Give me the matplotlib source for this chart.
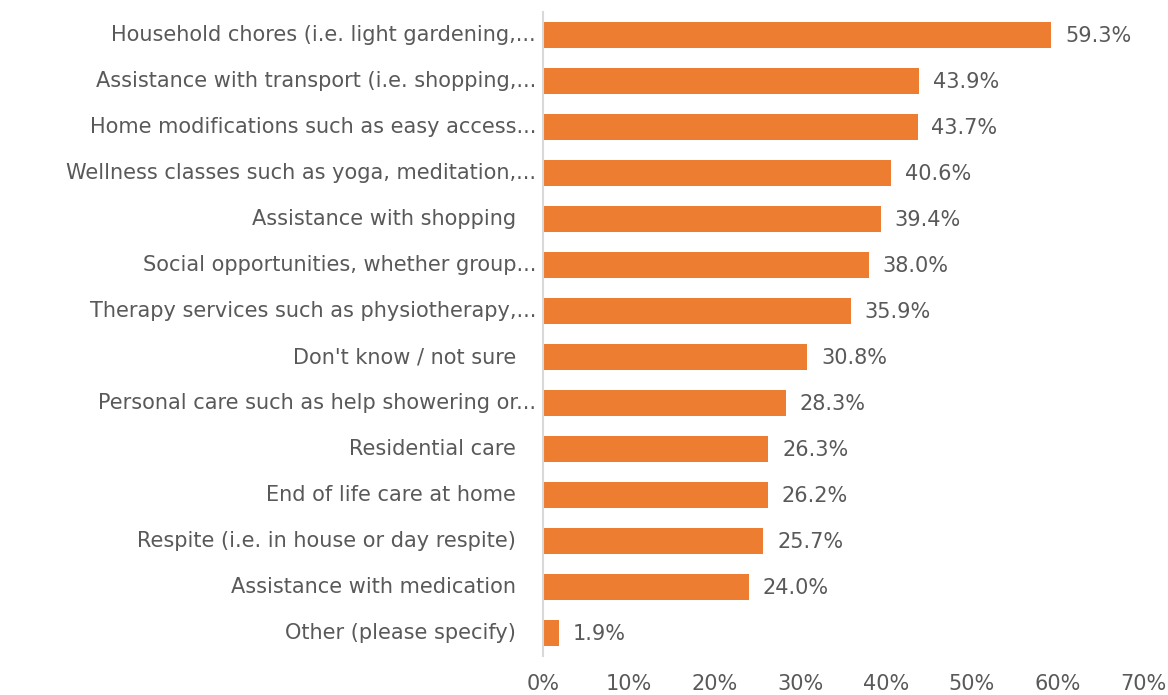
import matplotlib.pyplot as plt

# kategorier og verdier (fra toppen og ned)
kategorier = [
    "Household chores (i.e. light gardening,...",
    "Assistance with transport (i.e. shopping,...",
    "Home modifications such as easy access...",
    "Wellness classes such as yoga, meditation,...",
    "Assistance with shopping",
    "Social opportunities, whether group...",
    "Therapy services such as physiotherapy,...",
    "Don't know / not sure",
    "Personal care such as help showering or...",
    "Residential care",
    "End of life care at home",
    "Respite (i.e. in house or day respite)",
    "Assistance with medication",
    "Other (please specify)",
]
verdier = [59.3, 43.9, 43.7, 40.6, 39.4, 38.0, 35.9, 30.8, 28.3, 26.3, 26.2, 25.7, 24.0, 1.9]
x_ticks = [0, 10, 20, 30, 40, 50, 60, 70]

# labels uten "..." sitter litt lenger inn i originalen
labels = [k if k.endswith("...") else k + "   " for k in kategorier]

farge = "#ED7D31"
tekst = "#595959"
fs = 15

fig = plt.figure(figsize=(11.68, 6.95), dpi=100)
ax = fig.add_axes([0.4649, 0.0561, 0.5137, 0.9266])

y = list(range(len(kategorier)))
ax.barh(y, verdier, height=0.55, color=farge)

for yi, v in zip(y, verdier):
    ax.annotate(f"{v:.1f}%", (v, yi), xytext=(10, -1), textcoords="offset points",
                va="center", ha="left", fontsize=fs, color=tekst)

ax.set_yticks(y)
ax.set_yticklabels(labels, fontsize=fs, color=tekst, va="center")
ax.set_ylim(len(kategorier) - 0.5, -0.5)
ax.set_xlim(0, 70)
ax.set_xticks(x_ticks)
ax.set_xticklabels([f"{t}%" for t in x_ticks], fontsize=fs, color=tekst)
ax.tick_params(axis="both", length=0)
ax.tick_params(axis="x", pad=13)
ax.tick_params(axis="y", pad=5)

for s in ["top", "right", "bottom"]:
    ax.spines[s].set_visible(False)
ax.spines["left"].set_color("#D9D9D9")
ax.spines["left"].set_linewidth(1.5)

fig.savefig("out.png", dpi=100)
